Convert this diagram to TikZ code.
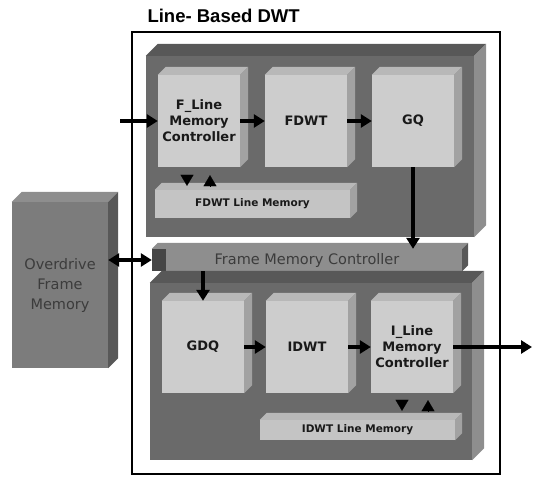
\documentclass[tikz,border=0pt]{standalone}
\usepackage{fontspec}
\setmainfont{DejaVu Sans}
\newfontfamily\titlefont{Liberation Sans}
\usetikzlibrary{arrows.meta}

\definecolor{blockdark}{HTML}{6A6A6A}
\definecolor{blockside}{HTML}{8E8E8E}
\definecolor{blocktop}{HTML}{585858}
\definecolor{facelight}{HTML}{CDCDCD}
\definecolor{faceside}{HTML}{A2A2A2}
\definecolor{facetop}{HTML}{B8B8B8}
\definecolor{barface}{HTML}{C4C4C4}
\definecolor{fmcface}{HTML}{8E8E8E}
\definecolor{odface}{HTML}{7C7C7C}
\definecolor{softtext}{HTML}{3C3C3C}

% top and right faces of an extruded box node
\newcommand\extrude[4]{%
  \fill[#3] (#1.north west) -- ++(#2,-#2) -- ([shift={(#2,-#2)}]#1.north east) -- (#1.north east) -- cycle;
  \fill[#4] (#1.north east) -- ([shift={(#2,-#2)}]#1.north east) -- ([shift={(#2,-#2)}]#1.south east) -- (#1.south east) -- cycle;}

\tikzset{
  block/.style={rectangle, fill=blockdark, inner sep=0pt},
  unit/.style={rectangle, fill=facelight, inner sep=0pt, minimum width=82pt, minimum height=92pt,
    font=\bfseries\fontsize{13}{16}\selectfont, text=black!90, align=center},
  membar/.style={rectangle, fill=barface, inner sep=0pt, font=\bfseries\fontsize{10.5}{12}\selectfont, text=black!90},
  conn/.style={line width=3.8pt, -{Triangle[length=11pt,width=13pt]}},
  biconn/.style={line width=3.8pt, {Triangle[length=11pt,width=13pt]}-{Triangle[length=11pt,width=13pt]}},
  tick/.style={line width=0.1pt, -{Triangle[length=11pt,width=13pt]}},
}

\begin{document}
\begin{tikzpicture}[x=1pt,y=-1pt]
\useasboundingbox (0,0) rectangle (534,477);

% title and outer frame
\node[anchor=base west, font=\titlefont\bfseries\fontsize{18.5}{20}\selectfont] (title) at (144,22) {Line- Based DWT};
\draw[line width=1.6pt] (132,32) rectangle (500,474);

% forward (upper) block
\node[block, minimum width=328pt, minimum height=181pt] (upper) at (310,146.5) {};
\extrude{upper}{12}{blocktop}{blockside}

\node[unit] (fline) at (199,121) {F\_Line\\Memory\\Controller};
\extrude{fline}{8}{facetop}{faceside}
\node[unit] (fdwt) at (306,121) {FDWT};
\extrude{fdwt}{8}{facetop}{faceside}
\node[unit] (gq) at (413,121) {GQ};
\extrude{gq}{8}{facetop}{faceside}

\node[membar, minimum width=195pt, minimum height=28pt] (flm) at (252.5,204) {FDWT Line Memory};
\extrude{flm}{7}{facetop}{faceside}

% frame memory controller bar
\node[rectangle, fill=fmcface, inner sep=0pt, minimum width=310pt, minimum height=22pt,
  font=\fontsize{14.5}{16}\selectfont, text=softtext] (fmc) at (307,260) {Frame Memory Controller};
\extrude{fmc}{6}{blockside}{blocktop}
\fill[blocktop!80!black] (fmc.north west) rectangle ++(14,22);

% inverse (lower) block
\node[block, minimum width=322pt, minimum height=177pt] (lower) at (311,371.5) {};
\extrude{lower}{12}{blocktop}{blockside}

\node[unit] (gdq) at (203,347) {GDQ};
\extrude{gdq}{8}{facetop}{faceside}
\node[unit] (idwt) at (307,347) {IDWT};
\extrude{idwt}{8}{facetop}{faceside}
\node[unit] (iline) at (412,347) {I\_Line\\Memory\\Controller};
\extrude{iline}{8}{facetop}{faceside}

\node[membar, minimum width=195pt, minimum height=20pt] (ilm) at (357.5,430) {IDWT Line Memory};
\extrude{ilm}{7}{facetop}{faceside}

% external frame memory
\node[rectangle, fill=odface, inner sep=0pt, minimum width=96pt, minimum height=166pt,
  font=\fontsize{14.5}{20}\selectfont, text=softtext, align=center] (od) at (60,285) {Overdrive\\Frame\\Memory};
\extrude{od}{10}{blockside}{blocktop}

% data flow
\coordinate (in) at (120,121);
\coordinate (out) at (532,347);
\draw[conn] (in) -- (fline.west);
\draw[conn] (fline.east) -- (fdwt.west);
\draw[conn] (fdwt.east) -- (gq.west);
\draw[conn] (gq.south) -- (gq.south |- fmc.north);
\draw[biconn] (fmc.west -| od.east) -- (fmc.west);
\draw[conn] (gdq.north |- fmc.south) -- (gdq.north);
\draw[conn] (gdq.east) -- (idwt.west);
\draw[conn] (idwt.east) -- (iline.west);
\draw[conn] (iline.east) -- (out);

% controller <-> line memory (heads only)
\draw[tick, shorten <=8pt, shorten >=4pt] ([xshift=-12pt]fline.south) -- ([xshift=-12pt]fline.south |- flm.north);
\draw[tick, shorten <=4pt, shorten >=8pt] ([xshift=11pt]fline.south |- flm.north) -- ([xshift=11pt]fline.south);
\draw[tick, shorten <=7pt, shorten >=9pt] ([xshift=-10pt]iline.south) -- ([xshift=-10pt]iline.south |- ilm.north);
\draw[tick, shorten <=9pt, shorten >=7pt] ([xshift=16pt]iline.south |- ilm.north) -- ([xshift=16pt]iline.south);
\end{tikzpicture}
\end{document}
